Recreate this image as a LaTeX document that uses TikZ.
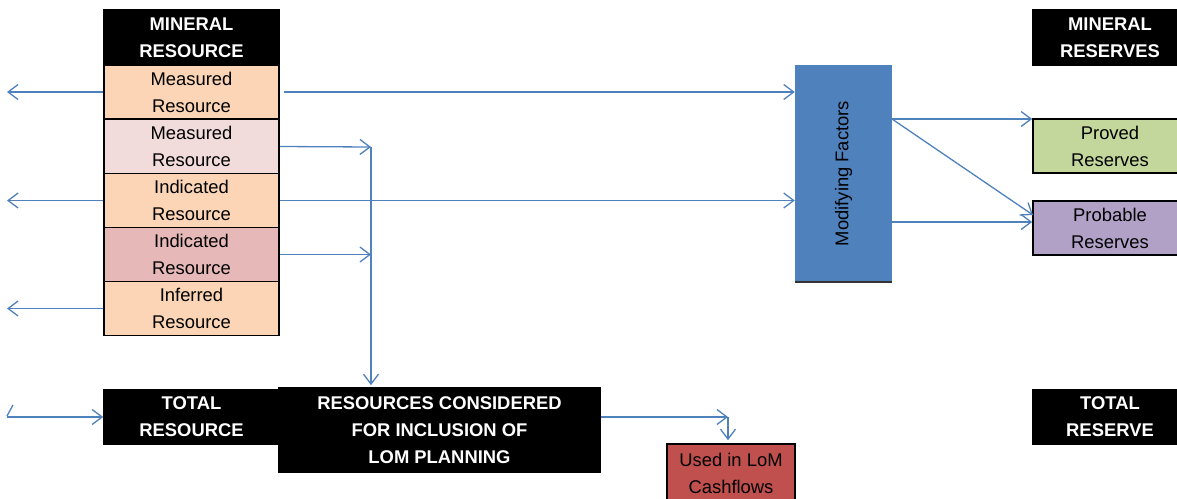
\documentclass[tikz,border=0pt]{standalone}
\usepackage{fontspec}
\setmainfont{Liberation Sans}
\usetikzlibrary{arrows.meta}
\definecolor{linec}{HTML}{4F81BD}
\definecolor{peach}{HTML}{FBD5B5}
\definecolor{lpink}{HTML}{F2DCDB}
\definecolor{dpink}{HTML}{E6B9B8}
\definecolor{mfblue}{HTML}{4F81BD}
\definecolor{pgreen}{HTML}{C3D69B}
\definecolor{ppurple}{HTML}{B2A1C7}
\definecolor{lomred}{HTML}{C0504D}
\tikzset{
  box/.style={draw=black, line width=1.6pt, inner sep=0pt, align=center,
    minimum width=175pt, minimum height=54pt,
    font=\fontsize{18.4}{27}\selectfont},
  blackbox/.style={box, fill=black, text=white,
    font=\fontsize{18.4}{27}\selectfont\bfseries},
  arr/.style={draw=linec, line width=1.3pt,
    -{Straight Barb[length=10pt,width=15pt,line width=1.3pt]}},
  plain/.style={draw=linec, line width=1.3pt}
}
\begin{document}
\begin{tikzpicture}[x=1pt,y=-1pt]
\useasboundingbox (0,0) rectangle (1177,498);
% left column
\node[blackbox, minimum height=55pt] (mres) at (191.5,37.5) {MINERAL\\RESOURCE};
\node[box, fill=peach] (m1) at (191.5,92) {Measured\\Resource};
\node[box, fill=lpink] (m2) at (191.5,146.5) {Measured\\Resource};
\node[box, fill=peach] (i1) at (191.5,200.5) {Indicated\\Resource};
\node[box, fill=dpink] (i2) at (191.5,254.5) {Indicated\\Resource};
\node[box, fill=peach] (inf) at (191.5,308.5) {Inferred\\Resource};
\node[blackbox] (tres) at (191.5,417) {TOTAL\\RESOURCE};
\node[blackbox, minimum width=321pt, minimum height=84pt] (rcons) at (439.5,430)
  {RESOURCES CONSIDERED\\FOR INCLUSION OF\\LOM PLANNING};
\node[box, fill=lomred, minimum width=128pt, minimum height=58pt] (used) at (731,473)
  {Used in LoM\\Cashflows};
% modifying factors
\node[fill=mfblue, inner sep=0pt, minimum width=97pt, minimum height=217pt,
  font=\fontsize{18.4}{22}\selectfont] (mf) at (843.5,173.5) {};
\node[rotate=90, font=\fontsize{18.4}{22}\selectfont] (mft) at (mf.center) {Modifying Factors};
\draw[black!80, line width=1.5pt] (mf.south west) -- (mf.south east);
% right column
\node[blackbox, minimum width=154pt, minimum height=55pt] (mrsv) at (1110,37.5) {MINERAL\\RESERVES};
\node[box, fill=pgreen, minimum width=154pt] (proved) at (1110,146) {Proved\\Reserves};
\node[box, fill=ppurple, minimum width=154pt] (prob) at (1110,228) {Probable\\Reserves};
\node[blackbox, minimum width=154pt] (trsv) at (1110,417) {TOTAL\\RESERVE};
% coordinates
\coordinate (lx) at (7,0);
\coordinate (vtop) at (371,147);
\coordinate (corner) at (728,417);
\coordinate (mfo1) at (892,119);
\coordinate (mfo2) at (892,222);
\coordinate (pin) at (1033,215);
% left arrows
\draw[arr] (m1.west) -- (m1.west -| lx);
\draw[arr] (i1.west) -- (i1.west -| lx);
\draw[arr] (inf.west) -- (inf.west -| lx);
\draw[arr] (tres.west -| lx) -- (tres.west);
\draw[plain] (7,416) -- (13,405);
% right of resource column
\draw[arr] ([xshift=4pt]m1.east) -- (mf.west |- m1.east);
\draw[arr] (i1.east) -- (mf.west |- i1.east);
\draw[arr] (m2.east) -- (vtop);
\draw[arr] (i2.east) -- (vtop |- i2.east);
\draw[arr, shorten >=2pt] (vtop) -- (vtop |- rcons.north);
% to LoM
\draw[arr] (rcons.east |- corner) -- (corner);
\draw[arr, shorten >=3pt] (corner) -- (corner |- used.north);
% modifying factors outputs
\draw[arr] (mfo1) -- (proved.north west |- mfo1);
\draw[arr] (mfo1) -- (pin);
\draw[arr] (mfo2) -- (prob.west |- mfo2);
\end{tikzpicture}
\end{document}
